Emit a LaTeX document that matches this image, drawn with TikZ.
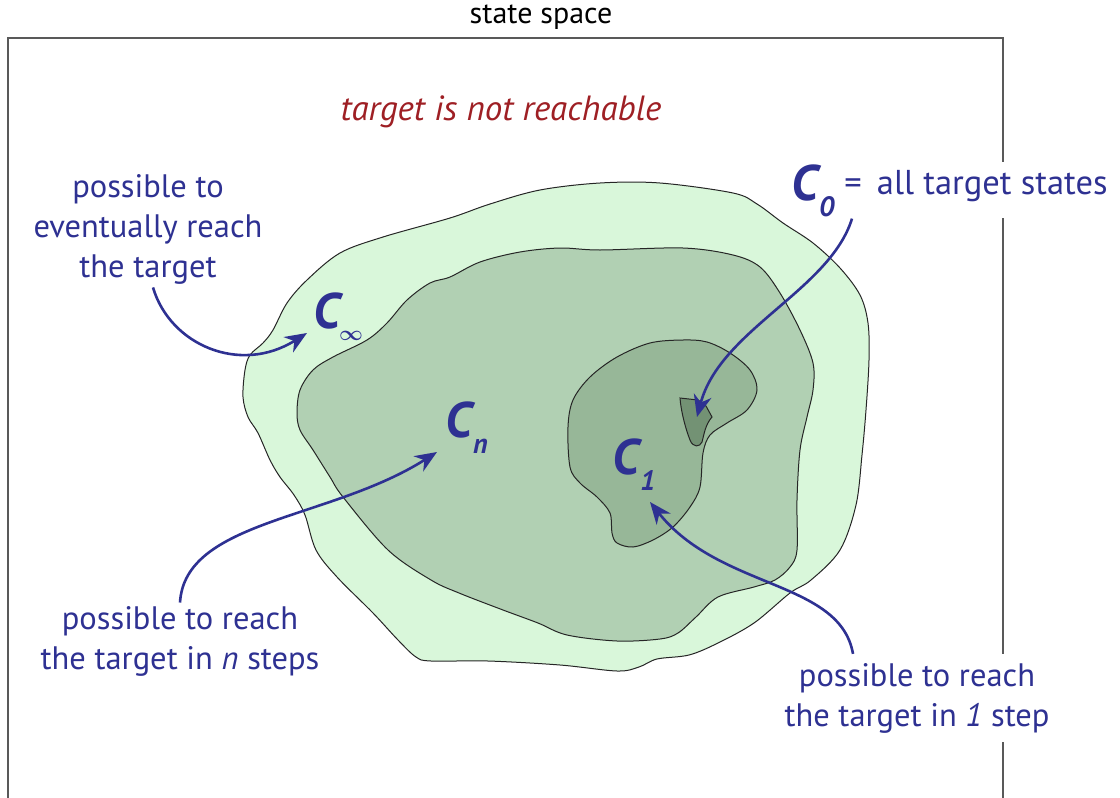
\documentclass[tikz,border=0pt]{standalone}
\usepackage{fontspec}
\setmainfont{PT Sans}
\usepackage{tikz}
\usetikzlibrary{arrows.meta}
\definecolor{textblau}{RGB}{46,49,146}
\definecolor{textrot}{RGB}{158,31,36}
\definecolor{gruenA}{RGB}{217,247,218}
\definecolor{gruenB}{RGB}{177,208,179}
\definecolor{gruenC}{RGB}{151,183,152}
\definecolor{gruenD}{RGB}{115,146,116}
\newcommand\mengeC[1]{{\bfseries\itshape C}\kern1pt\raisebox{-16pt}{\fontsize{28}{28}\selectfont\bfseries\itshape #1}}
\tikzset{
  gebiet/.style={draw=black!85,line width=1pt},
  text blau/.style={text=textblau,font=\fontsize{32.5}{40}\selectfont,align=center},
  menge/.style={text=textblau,font=\fontsize{50}{50}\selectfont,anchor=base west,inner sep=0pt},
  zeiger/.style={draw=textblau,line width=2.6pt,-{Stealth[length=22pt,width=18pt,inset=7pt]}},
}
\begin{document}
\begin{tikzpicture}[x=1pt,y=-1pt]
\useasboundingbox (0,0) rectangle (1120,798);
%Rahmen vom Zustandsraum
\draw[line width=1.2pt,black!65] (8,820) -- (8,38) -- (1003,38) -- (1003,820);
\node[font=\fontsize{30}{32}\selectfont] (titel) at (541,17) {state space};
%weisse Kaesten unterbrechen den Rahmen
\node[text blau,fill=white,anchor=base west,inner xsep=6pt,inner ysep=2pt] (nulltext) at (785,200)
  {\fontsize{50}{50}\selectfont\mengeC{0}\hspace{10pt}\raisebox{6pt}{\fontsize{34.5}{40}\selectfont=\hspace{6pt} all target states}};
\node[text blau,fill=white,inner sep=9pt] (einstext) at (917,698) {possible to reach\\the target in \textit{1} step};
%Gebiete
\draw[gebiet,fill=gruenA] plot[smooth cycle,tension=0.55] coordinates {
  (450,218) (490,204) (540,190) (600,183) (660,183) (733,193) (757,204) (783,223) (813,243)
  (840,268) (860,295) (868,323) (869,360) (866,410) (862,455) (856,505) (840,550) (811,580)
  (790,593) (754,623) (718,643) (689,655) (657,659) (639,667) (617,671) (560,665) (488,661)
  (431,661) (416,657) (398,640) (373,613) (337,577) (316,550) (305,515) (294,495) (280,477)
  (270,460) (258,433) (248,417) (243,397) (245,370) (250,355) (263,343) (273,330) (287,303)
  (307,280) (340,253) (383,237)};
\draw[gebiet,fill=gruenB] plot[smooth cycle,tension=0.55] coordinates {
  (450,277) (480,262) (520,252) (560,248) (600,250) (683,248) (733,255) (760,267) (780,293)
  (800,330) (813,363) (813,390) (807,417) (800,450) (797,500) (797,550) (790,567) (775,580)
  (754,587) (718,597) (696,617) (678,633) (660,639) (617,641) (567,635) (538,623) (503,610)
  (459,593) (431,580) (388,550) (343,497) (330,477) (313,450) (300,430) (297,413) (300,390)
  (313,370) (333,357) (367,340) (387,323) (407,300) (430,283)};
\draw[gebiet,fill=gruenC] plot[smooth cycle,tension=0.55] coordinates {
  (683,340) (707,342) (730,353) (750,370) (757,390) (747,410) (727,423) (710,435) (703,453)
  (700,487) (690,507) (673,527) (653,540) (633,547) (617,543) (612,533) (610,513) (597,497)
  (580,483) (570,467) (568,427) (573,400) (590,377) (617,357) (650,343)};
\draw[gebiet,fill=gruenD] (680,398) -- (698,400) -- (706,406) -- (712,417)
  .. controls (705,425) and (704,435) .. (702,442)
  .. controls (700,447) and (693,448) .. (690,440)
  .. controls (686,430) and (681,412) .. (680,398) -- cycle;
%Beschriftungen
\node[text=textrot,font=\fontsize{35}{40}\selectfont\itshape] (unerreichbar) at (501,112) {target is not reachable};
\node[text blau] (evtext) at (148,229) {possible to\\eventually reach\\the target};
\node[text blau] (ntext) at (180,641) {possible to reach\\the target in \textit{n} steps};
\node[menge] (cinf) at (313,328) {{\bfseries\itshape C}\kern-1pt\raisebox{-12pt}{\fontsize{22}{22}\selectfont\boldmath$\infty$}};
\node[menge] (cn) at (445,437) {\mengeC{n}};
\node[menge] (ceins) at (612,474) {\mengeC{1}};
\coordinate (spitzeinf) at (307,333);
\coordinate (spitzen) at (437,452);
\coordinate (spitzenull) at (697,417);
\coordinate (spitzeeins) at (650,502);
%Pfeile
\draw[zeiger] ([xshift=5pt]evtext.south) .. controls (170,345) and (240,375) .. (spitzeinf);
\draw[zeiger] (ntext.north) .. controls (185,520) and (330,520) .. (spitzen);
\draw[zeiger] ([xshift=67pt]nulltext.south west) .. controls (830,290) and (720,330) .. (spitzenull);
\draw[zeiger] ([xshift=-64pt]einstext.north) .. controls (840,580) and (720,590) .. (spitzeeins);
\end{tikzpicture}
\end{document}
